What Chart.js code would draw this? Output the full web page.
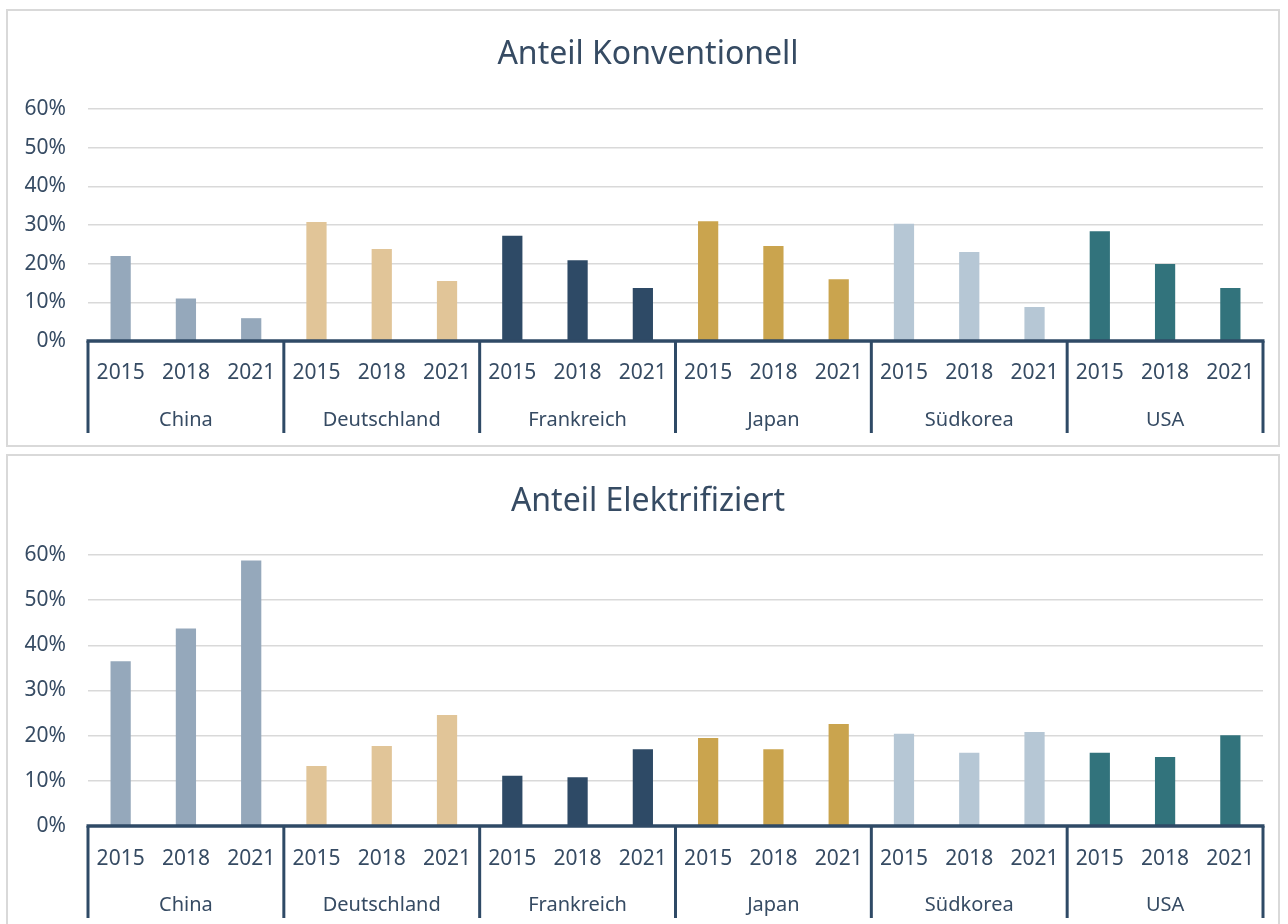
<!DOCTYPE html>
<html lang="de">
<head>
<meta charset="utf-8">
<title>Anteil Konventionell / Elektrifiziert</title>
<script src="https://cdn.jsdelivr.net/npm/chart.js@4.4.1/dist/chart.umd.min.js"></script>
<style>
    body {
        margin: 0;
        background: #ffffff;
        overflow: hidden;
    }
    .kasten {
        position: absolute;
        left: 6px;
        width: 1270px;
        border: 2px solid #d9d9d9;
        background: #ffffff;
    }
    #kastenOben {
        top: 9px;
        height: 434px;
    }
    #kastenUnten {
        top: 454px;
        height: 474px;
    }
</style>
</head>
<body>
<div class="kasten" id="kastenOben"><canvas id="konventionell"></canvas></div>
<div class="kasten" id="kastenUnten"><canvas id="elektrifiziert"></canvas></div>

<script>
const jahre = ['2015', '2018', '2021'];
const laender = ['China', 'Deutschland', 'Frankreich', 'Japan', 'Südkorea', 'USA'];
const farbenLaender = ['#95a8bb', '#e1c598', '#2e4a66', '#caa44e', '#b6c7d5', '#32737c'];

// Anteile in Prozent, je Land 2015 / 2018 / 2021
const anteilKonventionell = [22.0, 11.0, 5.9, 30.8, 23.8, 15.5, 27.2, 20.9, 13.7, 31.0, 24.6, 16.0, 30.3, 23.0, 8.8, 28.4, 19.9, 13.7];
const anteilElektrifiziert = [36.5, 43.7, 58.8, 13.3, 17.7, 24.6, 11.1, 10.8, 17.0, 19.5, 17.0, 22.6, 20.4, 16.2, 20.8, 16.2, 15.3, 20.1];

const yMax = 60;
const ySchritt = 10;

const farbeText = '#364b63';
const farbeAchse = '#2f4a66';
const schrift = "'Noto Sans', sans-serif";

window.onload = () => {
    zeichneDiagramm('konventionell', 'Anteil Konventionell', anteilKonventionell, 98, 53, 19);
    zeichneDiagramm('elektrifiziert', 'Anteil Elektrifiziert', anteilElektrifiziert, 99, 55, 20);
}

// Titel über dem Diagramm (etwas rechts der Mitte wie im Original)
const titelPlugin = {
    id: 'titelPlugin',
    afterDraw(chart, args, opts) {
        const ctx = chart.ctx;
        ctx.save();
        ctx.fillStyle = farbeText;
        ctx.font = "32px " + schrift;
        ctx.textAlign = 'center';
        ctx.textBaseline = 'alphabetic';
        ctx.fillText(opts.text, 640, opts.grundlinie);
        ctx.restore();
    }
}

// zweistufige Achse: dicke Nulllinie, Trennstriche und Ländernamen
const gruppenAchse = {
    id: 'gruppenAchse',
    afterDraw(chart) {
        const ctx = chart.ctx;
        const x = chart.scales.x;
        const y0 = chart.scales.y.getPixelForValue(0);
        const gruppenBreite = x.width / laender.length;

        ctx.save();
        ctx.strokeStyle = farbeAchse;
        ctx.lineWidth = 3.5;
        ctx.beginPath();
        ctx.moveTo(x.left - 1.5, y0);
        ctx.lineTo(x.right + 1.5, y0);
        ctx.stroke();

        ctx.lineWidth = 3;
        for (let i = 0; i <= laender.length; i++) {
            const px = x.left + i * gruppenBreite;
            ctx.beginPath();
            ctx.moveTo(px, y0);
            ctx.lineTo(px, y0 + 92);
            ctx.stroke();
        }

        ctx.fillStyle = farbeText;
        ctx.font = "20px " + schrift;
        ctx.textAlign = 'center';
        ctx.textBaseline = 'middle';
        for (let i = 0; i < laender.length; i++) {
            ctx.fillText(laender[i], x.left + (i + 0.5) * gruppenBreite, y0 + 79);
        }
        ctx.restore();
    }
}

function zeichneDiagramm(idCanvas, titel, werte, abstandOben, grundlinieTitel, abstandJahre) {
    const beschriftungen = [];
    const farben = [];
    for (let i = 0; i < laender.length; i++) {
        for (let j = 0; j < jahre.length; j++) {
            beschriftungen.push(jahre[j]);
            farben.push(farbenLaender[i]);
        }
    }

    const canvas = document.getElementById(idCanvas);
    new Chart(canvas, {
        type: 'bar',
        data: {
            labels: beschriftungen,
            datasets: [{
                data: werte,
                backgroundColor: farben,
                categoryPercentage: 1,
                barPercentage: 0.31
            }]
        },
        options: {
            responsive: true,
            maintainAspectRatio: false,
            animation: false,
            layout: {
                padding: { left: 0, right: 15, top: abstandOben, bottom: 0 }
            },
            scales: {
                y: {
                    min: 0,
                    max: yMax,
                    ticks: {
                        stepSize: ySchritt,
                        padding: 22,
                        color: farbeText,
                        font: { family: schrift, size: 21 },
                        callback: (v) => v + '%'
                    },
                    grid: {
                        color: '#d9d9d9',
                        lineWidth: 1.5,
                        drawTicks: false
                    },
                    border: { display: false },
                    afterFit: (skala) => { skala.width = 80 }
                },
                x: {
                    ticks: {
                        padding: abstandJahre,
                        color: farbeText,
                        font: { family: schrift, size: 21 },
                        maxRotation: 0,
                        autoSkip: false
                    },
                    grid: { display: false, drawTicks: false },
                    border: { display: false },
                    afterFit: (skala) => { skala.height = 104 }
                }
            },
            plugins: {
                legend: { display: false },
                tooltip: { enabled: false },
                title: { display: false },
                titelPlugin: { text: titel, grundlinie: grundlinieTitel }
            }
        },
        plugins: [gruppenAchse, titelPlugin]
    });
}
</script>
</body>
</html>
